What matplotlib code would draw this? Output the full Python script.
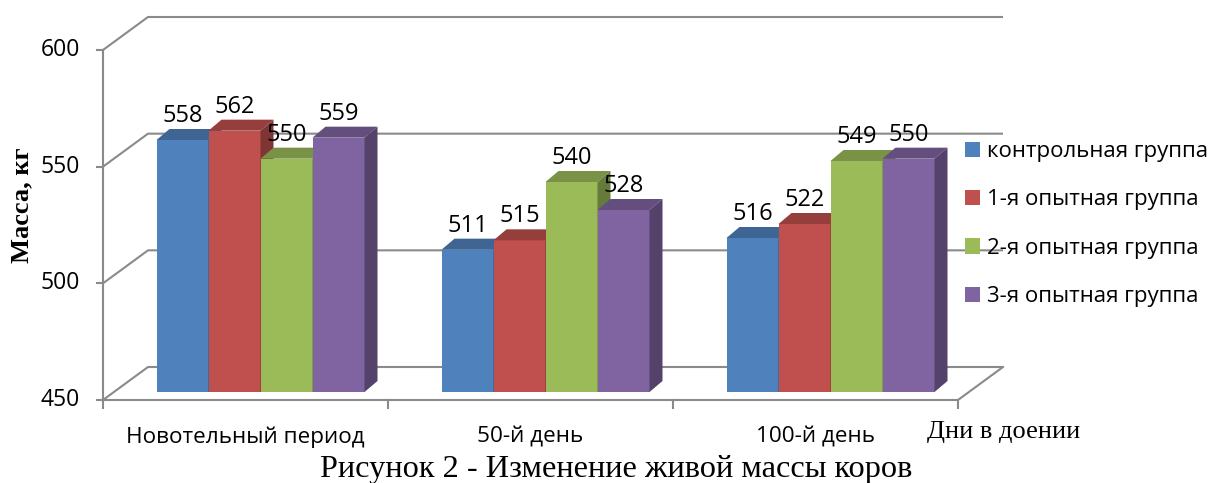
import matplotlib
matplotlib.use("Agg")
import matplotlib.pyplot as plt
from matplotlib.patches import Polygon, Patch
import matplotlib.colors as mcolors

# ---------------- data ----------------
categories = ["Новотельный период", "50-й день", "100-й день"]
series_names = ["контрольная группа", "1-я опытная группа",
                "2-я опытная группа", "3-я опытная группа"]
control = [558, 511, 516]
group1 = [562, 515, 522]
group2 = [550, 540, 549]
group3 = [559, 528, 550]
y_ticks = [450, 500, 550, 600]
y_label = "Масса, кг"
x_label = "Дни в доении"
caption = "Рисунок 2 - Изменение живой массы коров"

series = [control, group1, group2, group3]
colors = ["#4F81BD", "#C0504D", "#9BBB59", "#8064A2"]

# ---------------- figure / axes ----------------
W, H = 1215, 483
fig = plt.figure(figsize=(W / 100, H / 100), dpi=100)
ax = fig.add_axes([103 / W, (H - 400) / H, 855 / W, 350 / H])
n_cat = len(categories)
ymin, ymax = y_ticks[0], y_ticks[-1]
ax.set_xlim(0, n_cat)
ax.set_ylim(ymin, ymax)
ax.axis("off")

# pixel -> data unit helpers (style geometry only)
px_x = n_cat / 855.0
px_y = (ymax - ymin) / 350.0
wall_dx, wall_dy = 45 * px_x, 33 * px_y
bar_w = 52 * px_x
bar_dx, bar_dy = 13 * px_x, 11 * px_y
front_dx, front_dy = 15 * px_x, 8 * px_y

grid_c = "#8A8A8A"
glw = 1.5
sans = "Open Sans"
serif = "Liberation Serif"


def shade(c, f):
    r, g, b = mcolors.to_rgb(c)
    return (r * f, g * f, b * f)


# walls and grid lines
for v in y_ticks:
    ax.plot([0, wall_dx, n_cat + wall_dx], [v, v + wall_dy, v + wall_dy],
            color=grid_c, lw=glw, clip_on=False, zorder=1, solid_capstyle="butt")
    ax.plot([-6 * px_x, 0], [v, v], color=grid_c, lw=glw, clip_on=False, zorder=1)
    ax.text(-23 * px_x, v, str(v), ha="right", va="center", fontsize=16.5,
            family=sans, color="#000000")

# front vertical axis
ax.plot([0, 0], [ymin, ymax], color=grid_c, lw=glw, clip_on=False, zorder=2)
# floor front edge and right edge
ax.plot([0, n_cat, n_cat + wall_dx], [ymin, ymin, ymin + wall_dy],
        color=grid_c, lw=glw, clip_on=False, zorder=2)
for i in range(n_cat + 1):
    ax.plot([i, i], [ymin, ymin - 8 * px_y], color=grid_c, lw=glw,
            clip_on=False, zorder=2)

# category labels
for i, c in enumerate(categories):
    ax.text(i + 0.5, ymin - 37 * px_y, c, ha="center", va="center",
            fontsize=16.2, family=sans, color="#000000")

# bars
n_ser = len(series)
for j, (vals, col) in enumerate(zip(series, colors)):
    lefts = [i + 0.5 + front_dx - n_ser / 2 * bar_w + j * bar_w for i in range(n_cat)]
    heights = [v - ymin for v in vals]
    ax.bar(lefts, heights, width=bar_w, bottom=ymin + front_dy, align="edge",
           color=col, edgecolor="none", zorder=10 + 3 * j, clip_on=False)
    for x0, v in zip(lefts, vals):
        top = v + front_dy
        bot = ymin + front_dy
        ax.add_patch(Polygon([(x0, top), (x0 + bar_dx, top + bar_dy),
                              (x0 + bar_w + bar_dx, top + bar_dy), (x0 + bar_w, top)],
                             closed=True, facecolor=shade(col, 0.78), edgecolor="none",
                             zorder=11 + 3 * j, clip_on=False))
        ax.add_patch(Polygon([(x0 + bar_w, top), (x0 + bar_w + bar_dx, top + bar_dy),
                              (x0 + bar_w + bar_dx, bot + bar_dy), (x0 + bar_w, bot)],
                             closed=True, facecolor=shade(col, 0.66), edgecolor="none",
                             zorder=12 + 3 * j, clip_on=False))
        ax.text(x0 + bar_w / 2, top + bar_dy + 7 * px_y, str(v), ha="center",
                va="baseline", fontsize=17, family=sans, color="#000000", zorder=40)

# legend
handles = [Patch(facecolor=c, edgecolor="none") for c in colors]
fig.legend(handles, series_names, loc="upper left",
           bbox_to_anchor=(965 / W, 1 - 141 / H), frameon=False,
           prop={"family": sans, "size": 16}, handlelength=0.68, handleheight=0.68,
           handletextpad=0.32, labelspacing=1.23, borderpad=0, borderaxespad=0)

# axis titles and caption
fig.text(22 / W, 1 - 205 / H, y_label, rotation=90, ha="center", va="center",
         family=serif, fontweight="bold", fontsize=19)
fig.text(1004 / W, 1 - 432 / H, x_label, ha="center", va="center",
         family=serif, fontsize=19)
fig.text(616 / W, 1 - 470 / H, caption, ha="center", va="center",
         family=serif, fontsize=23.3)

fig.savefig("out.png", dpi=100)
